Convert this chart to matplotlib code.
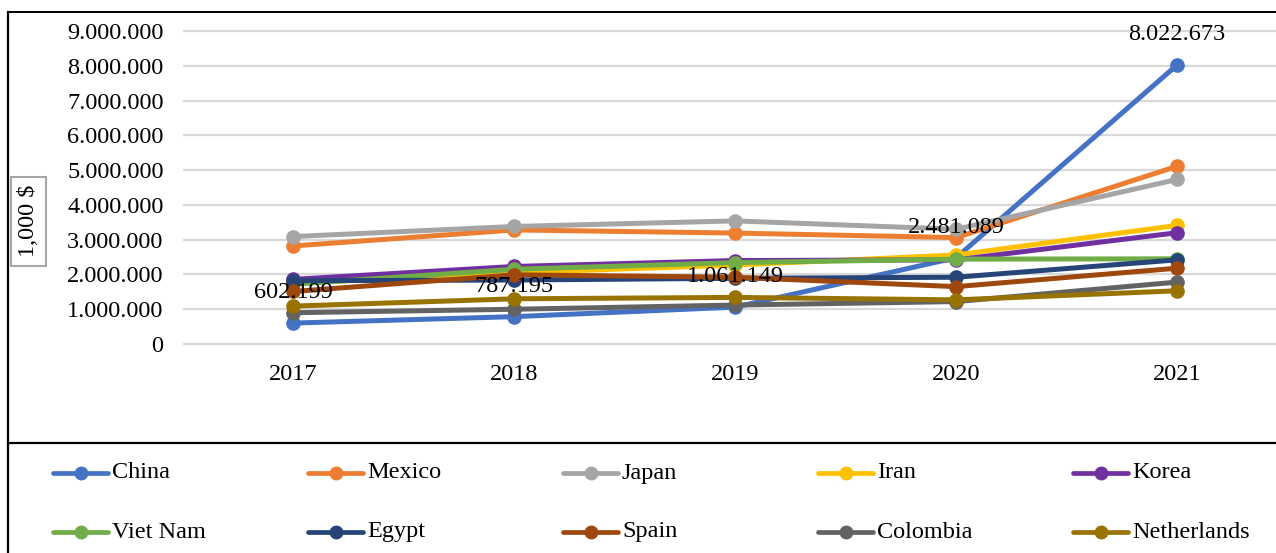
import matplotlib
matplotlib.use("Agg")
import matplotlib.pyplot as plt
from matplotlib.lines import Line2D
from matplotlib.patches import Rectangle
from matplotlib.ticker import FuncFormatter

plt.rcParams['font.family'] = ['Liberation Serif', 'DejaVu Serif']

# data (1,000 $)
years = ['2017', '2018', '2019', '2020', '2021']
countries = ['China', 'Mexico', 'Japan', 'Iran', 'Korea',
             'Viet Nam', 'Egypt', 'Spain', 'Colombia', 'Netherlands']
china = [602199, 787195, 1061149, 2481089, 8022673]
mexico = [2820000, 3280000, 3190000, 3060000, 5110000]
japan = [3090000, 3380000, 3540000, 3300000, 4730000]
iran = [1750000, 2050000, 2270000, 2560000, 3410000]
korea = [1860000, 2230000, 2400000, 2420000, 3200000]
viet_nam = [1720000, 2150000, 2340000, 2440000, 2450000]
egypt = [1820000, 1840000, 1890000, 1920000, 2420000]
spain = [1510000, 1990000, 1920000, 1650000, 2180000]
colombia = [900000, 1000000, 1120000, 1220000, 1780000]
netherlands = [1090000, 1300000, 1340000, 1270000, 1530000]
series = [china, mexico, japan, iran, korea, viet_nam, egypt, spain, colombia, netherlands]
colors = ['#4472C4', '#ED7D31', '#A5A5A5', '#FFC000', '#7030A0',
          '#70AD47', '#264478', '#9E480E', '#636363', '#997300']

W, H = 1276, 553
fig = plt.figure(figsize=(W / 100, H / 100), dpi=100)

# plot area: left edge at px 183, zero line at px 344, 9M line at px 31
ax = fig.add_axes([183 / W, (H - 347.5) / H, 1 - 183 / W, 320 / H])
x = list(range(len(years)))
for vals, c in zip(series, colors):
    ax.plot(x, vals, color=c, lw=3.6, marker='o', ms=9.5, mec=c, mfc=c,
            solid_capstyle='round')

for xi, v in zip(x, china):
    lbl = f"{v:,}".replace(',', '.')
    ax.annotate(lbl, (xi, v), xytext=(0, 22), textcoords='offset points',
                ha='center', va='center', fontsize=17.5, color='black', zorder=20)

ax.set_xlim(-0.5, 4 + (W - 1177) / 221)
ax.set_ylim(-0.1e6, 9.1e6)
ax.set_yticks(range(0, 9000001, 1000000))
ax.yaxis.set_major_formatter(FuncFormatter(lambda v, p: f"{int(v):,}".replace(',', '.')))
ax.set_xticks(x)
ax.set_xticklabels(years)
ax.tick_params(axis='both', length=0, labelsize=17.5, colors='black')
ax.tick_params(axis='y', pad=14)
ax.tick_params(axis='x', pad=12)
ax.grid(axis='y', color='#D9D9D9', lw=1.6)
ax.set_axisbelow(True)
for s in ax.spines.values():
    s.set_visible(False)

# y axis title in a grey box
fig.text(28 / W, (H - 221) / H, '1,000 $', rotation=90, ha='center', va='center',
         fontsize=17.5)
fig.add_artist(Rectangle((11 / W, (H - 266) / H), 35 / W, 89 / H, transform=fig.transFigure,
                         fill=False, edgecolor='#A6A6A6', lw=1.5))

# outer frame and separator above legend
fig.add_artist(Line2D([8 / W, 8 / W], [0, (H - 11.7) / H], transform=fig.transFigure,
                      color='black', lw=1.6))
fig.add_artist(Line2D([8 / W, 1], [(H - 11.7) / H] * 2, transform=fig.transFigure,
                      color='black', lw=1.4))
fig.add_artist(Line2D([8 / W, 1], [(H - 443) / H] * 2, transform=fig.transFigure,
                      color='black', lw=1.6))

# legend, 2 rows x 5 columns
for i, (name, c) in enumerate(zip(countries, colors)):
    col, row = i % 5, i // 5
    x0 = 53 + col * 255
    yy = (H - (473 + row * 59)) / H
    fig.add_artist(Line2D([x0 / W, (x0 + 55) / W], [yy, yy], transform=fig.transFigure,
                          color=c, lw=3.4, solid_capstyle='round'))
    fig.add_artist(Line2D([(x0 + 27.5) / W], [yy], transform=fig.transFigure,
                          color=c, marker='o', ms=9))
    fig.text((x0 + 59) / W, yy, name, ha='left', va='center', fontsize=17.5)

fig.savefig('out.png', dpi=100)
